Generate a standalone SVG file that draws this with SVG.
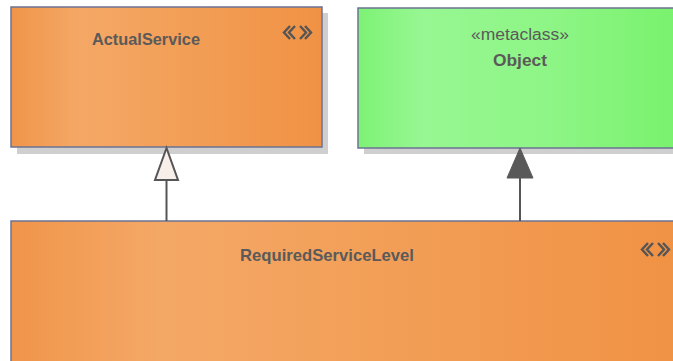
<svg xmlns="http://www.w3.org/2000/svg" width="673" height="361" viewBox="0 0 673 361">
<defs>
<linearGradient id="orange" x1="0" y1="0" x2="1" y2="0">
<stop offset="0" stop-color="#F0954A"/>
<stop offset="0.22" stop-color="#F4A866"/>
<stop offset="0.6" stop-color="#F29D55"/>
<stop offset="1" stop-color="#F09244"/>
</linearGradient>
<linearGradient id="green" x1="0" y1="0" x2="1" y2="0">
<stop offset="0" stop-color="#7DF275"/>
<stop offset="0.2" stop-color="#97F792"/>
<stop offset="0.6" stop-color="#8DF585"/>
<stop offset="1" stop-color="#78F26C"/>
</linearGradient>
</defs>
<style>
.shadow{fill:#CFCFCF}
.box{stroke:#6B7392;stroke-width:1.5}
.name{font-family:"Liberation Sans",Arial,sans-serif;font-weight:bold;font-size:17px;fill:#5A5A5A;text-anchor:middle}
.stereo{font-family:"Liberation Sans",Arial,sans-serif;font-size:16px;fill:#5A5A5A;text-anchor:middle}
.icon{fill:none;stroke:#555555;stroke-width:2.4}
.line{stroke:#555555;stroke-width:2;fill:none}
</style>
<g id="ActualService">
<rect class="shadow" x="17" y="13" width="311" height="141"/>
<rect class="box" x="11" y="7" width="311" height="140" fill="url(#orange)"/>
<text class="name" x="146" y="45" textLength="108" lengthAdjust="spacingAndGlyphs">ActualService</text>
<g class="icon">
<polyline points="290,26 284,32.5 290,39"/>
<polyline points="295,26 289,32.5 295,39"/>
<polyline points="300,26 306,32.5 300,39"/>
<polyline points="305,26 311,32.5 305,39"/>
</g>
</g>
<g id="Object">
<rect class="shadow" x="364" y="14" width="320" height="140"/>
<rect class="box" x="358" y="8" width="324" height="140" fill="url(#green)"/>
<text class="stereo" x="520" y="40" textLength="98" lengthAdjust="spacingAndGlyphs">«metaclass»</text>
<text class="name" x="520" y="66" textLength="54" lengthAdjust="spacingAndGlyphs">Object</text>
</g>
<g id="RequiredServiceLevel">
<rect class="box" x="11" y="221" width="672" height="150" fill="url(#orange)"/>
<text class="name" x="327" y="261" textLength="174" lengthAdjust="spacingAndGlyphs">RequiredServiceLevel</text>
<g class="icon">
<polyline points="648,243 642,249.5 648,256"/>
<polyline points="653,243 647,249.5 653,256"/>
<polyline points="658,243 664,249.5 658,256"/>
<polyline points="663,243 669,249.5 663,256"/>
</g>
</g>
<g id="connectors">
<line class="line" x1="166.5" y1="221" x2="166.5" y2="180"/>
<polygon points="166.5,148 155,180 178,180" fill="#F8EEEA" stroke="#555555" stroke-width="2" stroke-linejoin="miter"/>
<line class="line" x1="520" y1="221" x2="520" y2="178"/>
<polygon points="520,148 507,178 533,178" fill="#595959" stroke="#595959" stroke-width="1"/>
</g>
</svg>
